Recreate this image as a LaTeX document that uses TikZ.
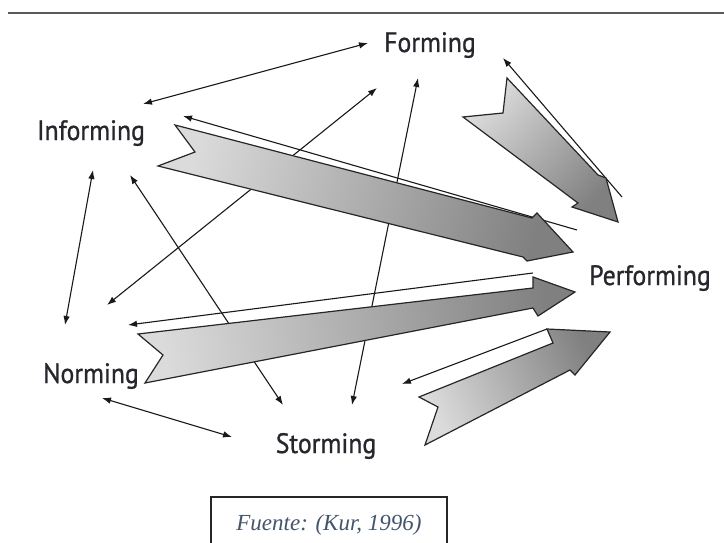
\documentclass[tikz,border=0pt]{standalone}
\usepackage{fontspec}
\setmainfont{Liberation Serif}
\newfontfamily\labelfont[FakeBold=0.9,FakeStretch=0.92]{PT Sans}
\usetikzlibrary{arrows.meta}
\definecolor{captionblue}{HTML}{44546A}
\definecolor{labelink}{HTML}{26262C}
\begin{document}
\begin{tikzpicture}[x=1pt,y=-1pt,
  >={Latex[length=9pt,width=6.5pt]},
  stagelabel/.style={font=\labelfont\fontsize{28}{32}\selectfont, text=labelink, inner sep=0pt, anchor=base},
  link/.style={line width=1.1pt, draw=black!90},
  blockarrow/.style={draw=black!85, line width=1.2pt, line join=miter, top color=black!14, bottom color=black!50},
]
\useasboundingbox (0,0) rectangle (724,543);

% rule across the top
\draw[line width=2.6pt, black!65] (8,13) -- (724,13);

% stage labels
\node[stagelabel] (forming)    at (430,52)  {Forming};
\node[stagelabel] (informing)  at (91,140)  {Informing};
\node[stagelabel] (performing) at (650,285) {Performing};
\node[stagelabel] (norming)    at (91,383)  {Norming};
\node[stagelabel] (storming)   at (326,453) {Storming};

% end points of the thin connectors
\coordinate (inf-for) at (143,104);  \coordinate (for-inf) at (368,43);
\coordinate (inf-nor) at (93,170);   \coordinate (nor-inf) at (65,325);
\coordinate (inf-sto) at (130,175);  \coordinate (sto-inf) at (283,405);
\coordinate (nor-for) at (107,305);  \coordinate (for-nor) at (377,88);
\coordinate (sto-for) at (352,405);  \coordinate (for-sto) at (418,78);
\coordinate (nor-sto) at (102,398);  \coordinate (sto-nor) at (232,437);

% feedback lines running beside the block arrows
\coordinate (perf-for) at (622,197); \coordinate (for-back) at (503,58);
\coordinate (perf-inf) at (577,230); \coordinate (inf-back) at (183,116);
\coordinate (perf-nor) at (533,273); \coordinate (nor-back) at (128,325);
\coordinate (perf-sto) at (547,329); \coordinate (sto-back) at (402,384);

% two-way links between the stages
\draw[link,<->] (inf-for) -- (for-inf);
\draw[link,<->] (inf-nor) -- (nor-inf);
\draw[link,<->] (inf-sto) -- (sto-inf);
\draw[link,<->] (nor-for) -- (for-nor);
\draw[link,<->] (sto-for) -- (for-sto);
\draw[link,<->] (nor-sto) -- (sto-nor);

% feedback from Performing
\draw[link,->] (perf-for) -- (for-back);
\draw[link,->] (perf-inf) -- (inf-back);
\draw[link,->] (perf-nor) -- (nor-back);
\draw[link,->] (perf-sto) -- (sto-back);

% shaded block arrows towards Performing
\path[blockarrow, shading angle=47]
  (507,78) -- (503,113) -- (463,117) -- (578,203) -- (572,207)
  -- (618,222) -- (606,178) -- (598,175) -- cycle;
\path[blockarrow, shading angle=75]
  (175,125) -- (195,152) -- (158,166) -- (523,257) -- (527,261)
  -- (573,252) -- (537,213) -- (532,218) -- cycle;
\path[blockarrow, shading angle=99]
  (138,334) -- (163,355) -- (145,383) -- (533,308) -- (538,316)
  -- (575,292) -- (533,277) -- (533,288) -- cycle;
\path[blockarrow, shading angle=115]
  (419,397) -- (438,407) -- (425,445) -- (570,370) -- (575,375)
  -- (610,332) -- (547,329) -- (553,343) -- cycle;

% source caption in an open frame
\node[font=\itshape\fontsize{23}{27}\selectfont, text=captionblue, anchor=base, inner sep=0pt]
  (source) at (329,530) {Fuente: (Kur, 1996)};
\draw[line width=1.2pt, black!85] (211,546) -- (211,497) -- (447,497) -- (447,546);
\end{tikzpicture}
\end{document}
